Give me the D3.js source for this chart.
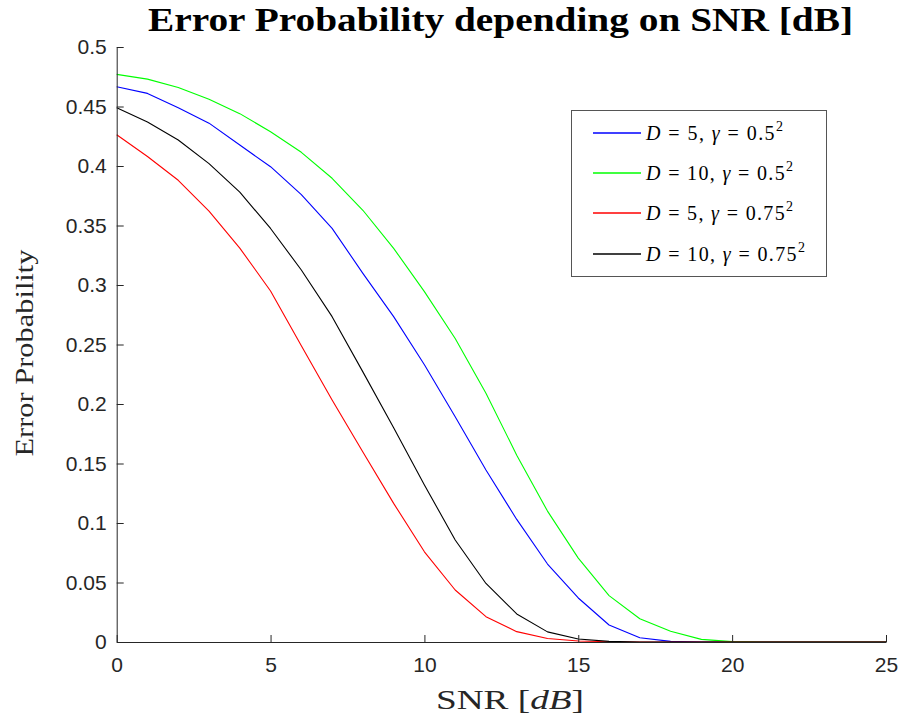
<!DOCTYPE html>
<html>
<head>
<meta charset="utf-8">
<script src="https://cdn.jsdelivr.net/npm/d3@7"></script>
<style>
  html, body { margin: 0; padding: 0; background: #fff; }
  svg { display: block; }
</style>
</head>
<body>
<svg id="chart" width="904" height="723"></svg>
<script>
// SNR grid (dB)
const snr = [0,1,2,3,4,5,6,7,8,9,10,11,12,13,14,15,16,17,18,19,20,21,22,23,24,25];

// Error probability for each (D, gamma) configuration
const peD5g05  = [0.4666,0.4610,0.4490,0.4360,0.4176,0.3994,0.3760,0.3476,0.3098,0.2734,0.2330,0.1893,0.1445,0.1030,0.0655,0.0370,0.0143,0.0036,0.0005,0,0,0,0,0,0,0];
const peD10g05 = [0.4770,0.4730,0.4660,0.4560,0.4440,0.4288,0.4115,0.3897,0.3628,0.3308,0.2944,0.2550,0.2090,0.1570,0.1100,0.0705,0.0390,0.0195,0.0090,0.0022,0.0003,0,0,0,0,0];
const peD5g075 = [0.4263,0.4080,0.3880,0.3620,0.3310,0.2950,0.2490,0.2034,0.1597,0.1165,0.0758,0.0437,0.0213,0.0087,0.0030,0.0009,0.0002,0,0,0,0,0,0,0,0,0];
const peD10g075= [0.4490,0.4370,0.4218,0.4020,0.3780,0.3475,0.3126,0.2734,0.2270,0.1800,0.1320,0.0857,0.0492,0.0236,0.0085,0.0025,0.0005,0,0,0,0,0,0,0,0,0];

const seriesNames = ["D5g05", "D10g05", "D5g075", "D10g075"];
const seriesColors = ["#0000ff", "#00ff00", "#ff0000", "#000000"];
// legend entries: D value and gamma base
const legendD = ["5", "10", "5", "10"];
const legendGamma = ["0.5", "0.5", "0.75", "0.75"];

const xTicks = [0, 5, 10, 15, 20, 25];
const yTicks = [0, 0.05, 0.1, 0.15, 0.2, 0.25, 0.3, 0.35, 0.4, 0.45, 0.5];

const seriesValues = [peD5g05, peD10g05, peD5g075, peD10g075];

const svg = d3.select("#chart");
const axisColor = "#262626";
const serif = "'Liberation Serif', 'Times New Roman', serif";
const plotLeft = 116.7, plotRight = 886, plotTop = 47, plotBottom = 642;

const x = d3.scaleLinear().domain([0, 25]).range([plotLeft, plotRight]);
const y = d3.scaleLinear().domain([0, 0.5]).range([plotBottom, plotTop]);

svg.append("rect").attr("width", 904).attr("height", 723).attr("fill", "#fff");

// curves
const curveGen = d3.line().x((d, i) => x(snr[i])).y(d => y(d));
const curves = svg.append("g").attr("class", "curves");
seriesValues.forEach((vals, k) => {
  curves.append("path")
    .datum(vals)
    .attr("class", "series " + seriesNames[k])
    .attr("fill", "none")
    .attr("stroke", seriesColors[k])
    .attr("stroke-width", 1.1)
    .attr("stroke-linejoin", "round")
    .attr("d", curveGen);
});

// axes with inward ticks
const fmt = d => String(+d.toFixed(2));
const xAxis = svg.append("g")
  .attr("transform", `translate(0,${plotBottom})`)
  .call(d3.axisBottom(x).tickValues(xTicks).tickFormat(fmt).tickSizeInner(-7).tickSizeOuter(0).tickPadding(15));
const yAxis = svg.append("g")
  .attr("transform", `translate(${plotLeft},0)`)
  .call(d3.axisLeft(y).tickValues(yTicks).tickFormat(fmt).tickSizeInner(-7).tickSizeOuter(0).tickPadding(10));

[xAxis, yAxis].forEach(g => {
  g.select(".domain").attr("stroke", axisColor).attr("stroke-width", 1);
  g.selectAll(".tick line").attr("stroke", axisColor).attr("stroke-width", 1);
  g.selectAll(".tick text")
    .attr("fill", axisColor)
    .style("font-family", "'Liberation Sans', Arial, sans-serif")
    .style("font-size", "21px");
});

// title
svg.append("text")
  .attr("x", 500.5).attr("y", 31)
  .attr("text-anchor", "middle")
  .attr("textLength", 705).attr("lengthAdjust", "spacingAndGlyphs")
  .style("font-family", serif)
  .style("font-weight", "bold")
  .style("font-size", "34px")
  .attr("fill", "#000")
  .text("Error Probability depending on SNR [dB]");

// axis labels
const xl = svg.append("text")
  .attr("x", 510).attr("y", 709)
  .attr("text-anchor", "middle")
  .attr("textLength", 148).attr("lengthAdjust", "spacingAndGlyphs")
  .style("font-family", serif)
  .style("font-size", "27px")
  .attr("fill", axisColor);
xl.append("tspan").text("SNR [");
xl.append("tspan").style("font-style", "italic").text("dB");
xl.append("tspan").text("]");

svg.append("text")
  .attr("transform", "translate(33,353) rotate(-90)")
  .attr("text-anchor", "middle")
  .attr("textLength", 207).attr("lengthAdjust", "spacingAndGlyphs")
  .style("font-family", serif)
  .style("font-size", "26px")
  .attr("fill", axisColor)
  .text("Error Probability");

// legend
const lg = svg.append("g").attr("class", "legend");
lg.append("rect")
  .attr("x", 571.5).attr("y", 110.5).attr("width", 255).attr("height", 166)
  .attr("fill", "#fff").attr("stroke", "#555").attr("stroke-width", 1);
const rowY = [133, 173, 213, 254];
const rowWidth = [137, 147, 147, 159];
seriesNames.forEach((n, k) => {
  lg.append("path")
    .attr("d", `M593,${rowY[k]}H641`)
    .attr("fill", "none")
    .style("stroke", seriesColors[k])
    .style("stroke-width", "1.3px");
  const t = lg.append("text")
    .attr("x", 646).attr("y", rowY[k] + 7)
    .attr("textLength", rowWidth[k]).attr("lengthAdjust", "spacing")
    .style("font-family", serif)
    .style("font-size", "20px")
    .attr("fill", "#000");
  t.append("tspan").style("font-style", "italic").text("D");
  t.append("tspan").text(" = " + legendD[k] + ", ");
  t.append("tspan").style("font-style", "italic").text("γ");
  t.append("tspan").text(" = " + legendGamma[k]);
  t.append("tspan").attr("dy", -9).style("font-size", "14px").text("2");
});
</script>
</body>
</html>
